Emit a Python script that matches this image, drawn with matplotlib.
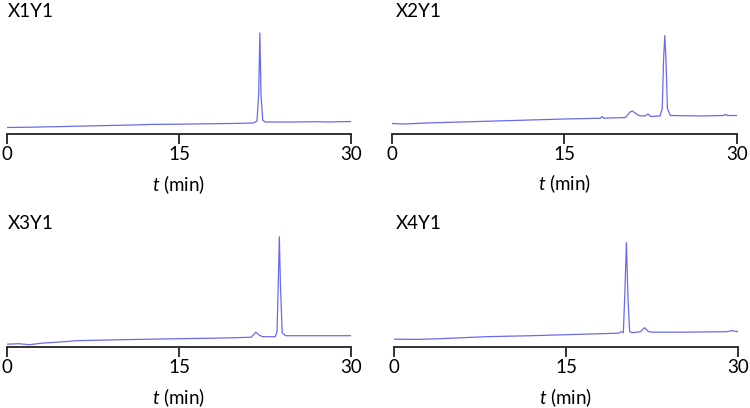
import matplotlib
matplotlib.use("Agg")
import matplotlib.pyplot as plt

plt.rcParams['font.family'] = ['Lato', 'DejaVu Sans']
plt.rcParams['mathtext.fontset'] = 'custom'
plt.rcParams['mathtext.it'] = 'Lato:italic'
plt.rcParams['mathtext.rm'] = 'Lato'

# trace data (t in min, signal in arbitrary units)
t1 = [0, 2, 5, 8, 11, 12.5, 15, 18, 20, 21.5, 21.8, 21.95, 22.05, 22.15, 22.3, 22.5, 25, 27, 28, 30]
s1 = [6.5, 6.8, 7.5, 8.3, 9, 9.6, 9.8, 10.3, 10.6, 11, 13, 40, 101, 40, 14, 12, 12, 12.3, 12, 12.5]

t2 = [0, 1, 3, 6, 9, 12, 15, 17, 18.1, 18.25, 18.4, 20.3, 20.7, 20.9, 21.2, 21.5, 22.0, 22.25, 22.5,
      23.3, 23.5, 23.62, 23.72, 23.82, 23.95, 24.2, 27, 28.8, 29, 29.2, 30]
s2 = [10, 9.5, 10.5, 11.5, 12.5, 13.5, 14.5, 15, 15.2, 17, 15.3, 16, 21.5, 22.5, 20, 17.8, 17.5, 19.5, 17,
      17.5, 25, 75, 98, 75, 25, 18, 17.5, 18, 19, 18, 18]

t3 = [0, 1, 2, 3, 5, 6, 8, 10, 15, 18, 20, 21.3, 21.7, 22.0, 22.3, 23.4, 23.55, 23.65, 23.75, 23.85,
      24.0, 24.3, 27, 30]
s3 = [2.5, 3, 2, 3.5, 5, 6, 6.5, 7, 8, 8.5, 9, 9.5, 14.5, 11.5, 10, 10, 15, 60, 110, 60,
      14, 11, 11, 11]

t4 = [0, 2, 4, 6, 8, 10, 12, 15, 18, 19.6, 19.8, 20.0, 20.12, 20.27, 20.4, 20.55, 20.8, 21.5, 21.85,
      22.2, 22.6, 25, 29, 29.5, 30]
s4 = [7.5, 7.3, 8, 9, 10, 10.5, 11, 12, 13, 13.5, 15, 14, 50, 104, 50, 15, 14, 15, 19,
      15, 14.5, 14.5, 15, 16, 15]

names = ["X1Y1", "X2Y1", "X3Y1", "X4Y1"]
times = [t1, t2, t3, t4]
signals = [s1, s2, s3, s4]
xticks = [0, 15, 30]

W, H = 750, 408
fig = plt.figure(figsize=(W / 100, H / 100), dpi=100)

# panel boxes in pixels: left, right, top, bottom
boxes = [(7, 351, 25, 134), (392, 737, 25, 133.5), (7, 351, 229, 346.7), (394, 738, 229, 346.7)]
title_pos = [(8, 17), (396, 17), (8, 229), (396, 229)]
color = '#6a6aec'
fs = 13.5

for i in range(4):
    l, r, top, bot = boxes[i]
    ax = fig.add_axes([l / W, 1 - bot / H, (r - l) / W, (bot - top) / H])
    ax.plot(times[i], signals[i], color=color, lw=0.9)
    ax.set_xlim(0, 30)
    ax.set_ylim(0, bot - top)
    ax.set_xticks(xticks)
    ax.set_yticks([])
    for sp in ['top', 'left', 'right']:
        ax.spines[sp].set_visible(False)
    ax.spines['bottom'].set_linewidth(1.3)
    ax.spines['bottom'].set_color('#222222')
    ax.tick_params(axis='x', direction='out', length=7, width=1.3, color='#222222',
                   labelsize=fs, pad=2)
    ax.set_xlabel(r'$t$ (min)', fontsize=fs, labelpad=7)
    ax.patch.set_alpha(0)
    tx, ty = title_pos[i]
    fig.text(tx / W, 1 - ty / H, names[i], fontsize=fs, ha='left', va='baseline')

fig.savefig("out.png", dpi=100)
